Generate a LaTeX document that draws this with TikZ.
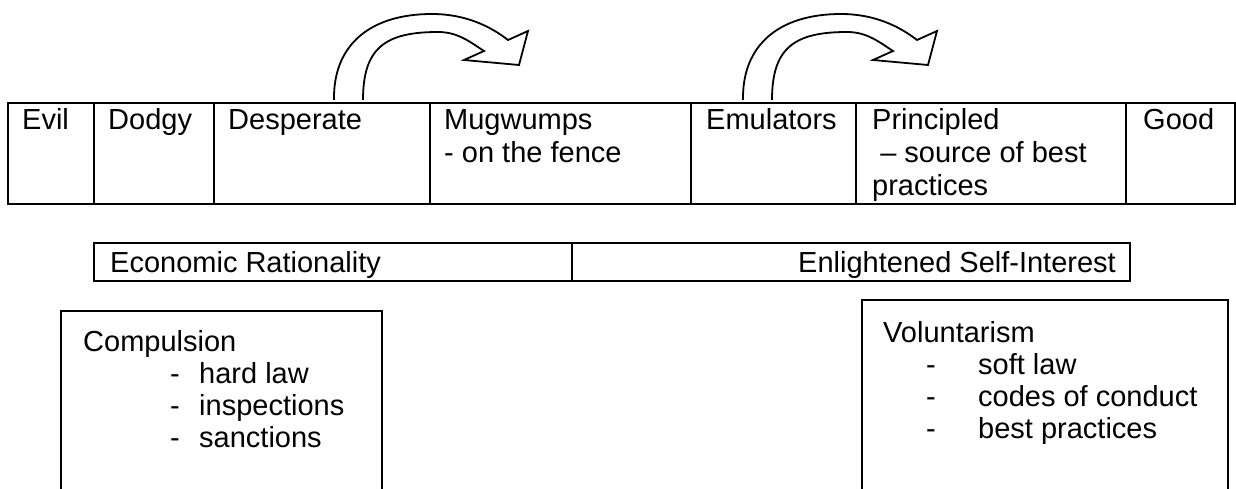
\documentclass[tikz,border=0pt]{standalone}
\usepackage{fontspec}
\setmainfont{Liberation Sans}
\begin{document}
\begin{tikzpicture}[x=1pt,y=-1pt,line join=miter,
  tline/.style={line width=2pt},
  bline/.style={line width=1.4pt},
  arrowline/.style={line width=1.8pt},
  txt/.style={inner sep=0pt,anchor=base west,font=\fontsize{29}{33}\selectfont},
  txtr/.style={inner sep=0pt,anchor=base east,font=\fontsize{29}{33}\selectfont}]
\useasboundingbox (0,0) rectangle (1236,489);
% curved arrows
\foreach \dx in {0,409}{
  \begin{scope}[xshift=\dx]
  \draw[arrowline] (334,100) .. controls (333,45) and (370,14) .. (432,14)
     .. controls (465,14) and (490,26) .. (508,40)
     -- (528,31) -- (519,65) -- (464,60) -- (484,51)
     .. controls (470,42) and (458,32) .. (438,32)
     .. controls (385,32) and (363,48) .. (363,100);
  \end{scope}
}
% top table
\draw[tline] (8,103) rectangle (1235,204);
\foreach \x in {94,214,430,691,856,1126}{\draw[tline] (\x,103) -- (\x,204);}
\node[txt] (evil) at (22,130) {Evil};
\node[txt] (dodgy) at (108,130) {Dodgy};
\node[txt] (desp) at (228,130) {Desperate};
\node[txt] (mug) at (444,130) {Mugwumps};
\node[txt] (mug2) at (444,163) {- on the fence};
\node[txt] (emu) at (706,130) {Emulators};
\node[txt] (prin) at (872,130) {Principled};
\node[txt] (prin2) at (872,163) {\ – source of best};
\node[txt] (prin3) at (872,196) {practices};
\node[txt] (good) at (1143,130) {Good};
% second table
\draw[bline] (94,243) rectangle (1130,281);
\draw[bline] (572,243) -- (572,281);
\node[txt] (econ) at (110,272) {Economic Rationality};
\node[txtr] (enl) at (1116,272) {Enlightened Self-Interest};
% compulsion box
\draw[bline] (61,495) -- (61,311) -- (382,311) -- (382,495);
\node[txt] (comp) at (83,351) {Compulsion};
\node[txt] (c1d) at (170,383) {-};
\node[txt] (c1) at (199,383) {hard law};
\node[txt] (c2d) at (170,415) {-};
\node[txt] (c2) at (199,415) {inspections};
\node[txt] (c3d) at (170,447) {-};
\node[txt] (c3) at (199,447) {sanctions};
% voluntarism box
\draw[bline] (862,495) -- (862,300) -- (1228,300) -- (1228,495);
\node[txt] (vol) at (883,342) {Voluntarism};
\node[txt] (v1d) at (926,374) {-};
\node[txt] (v1) at (978,374) {soft law};
\node[txt] (v2d) at (926,406) {-};
\node[txt] (v2) at (978,406) {codes of conduct};
\node[txt] (v3d) at (926,438) {-};
\node[txt] (v3) at (978,438) {best practices};
\end{tikzpicture}
\end{document}
